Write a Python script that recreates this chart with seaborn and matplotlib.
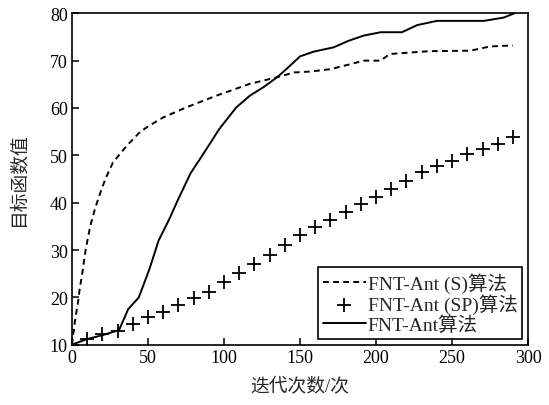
import numpy as np
import pandas as pd
import matplotlib
matplotlib.use('Agg')
import matplotlib.pyplot as plt
import seaborn as sns

# FNT-Ant (S): dashed curve
s_x = [0, 2, 4, 5, 7, 9, 12, 15, 18, 22, 27, 36, 45, 51, 60, 75, 95, 117, 135,
       146, 157, 170, 180, 192, 203, 209, 235, 262, 275, 290]
s_y = [10, 15, 19, 21.5, 25.5, 30, 35, 38.5, 41.5, 45, 48.5, 52, 55, 56.3, 58,
       60.1, 62.6, 65.1, 66.5, 67.5, 67.7, 68.2, 69, 70, 70, 71.4, 72, 72.1, 73, 73.2]

# FNT-Ant (SP): plus markers every 10 iterations
sp_x = list(range(0, 300, 10))
sp_y = [10, 11.2, 12.3, 13, 14.4, 15.8, 17, 18.4, 19.8, 21.1, 23.2, 25.1, 27, 29,
        31.1, 33.1, 34.8, 36.4, 38.1, 39.7, 41.3, 42.9, 44.6, 46.4, 47.8, 48.9,
        50.3, 51.3, 52.4, 53.8]

# FNT-Ant: solid curve
a_x = [0, 10, 20, 31, 37, 44, 51, 57, 64, 70, 78, 87, 97, 108, 117, 126, 135,
       142, 150, 159, 172, 182, 192, 203, 217, 227, 240, 255, 271, 284, 291]
a_y = [10, 11.2, 12, 13.1, 17.5, 20, 26, 32, 36.5, 40.8, 46.2, 50.6, 55.6, 60.1,
       62.6, 64.4, 66.5, 68.5, 70.9, 71.9, 72.8, 74.2, 75.3, 76, 76, 77.5, 78.4,
       78.4, 78.4, 79.1, 80]

labels = ['FNT-Ant (S)算法', 'FNT-Ant (SP)算法', 'FNT-Ant算法']
x_ticks = [0, 50, 100, 150, 200, 250, 300]
y_ticks = [10, 20, 30, 40, 50, 60, 70, 80]

sns.set_style('ticks')
plt.rcParams['font.family'] = ['Liberation Serif', 'Noto Sans CJK SC']
plt.rcParams['axes.unicode_minus'] = False

fig = plt.figure(figsize=(5.49, 4.06), dpi=100)
ax = fig.add_axes([0.131, 0.1485, 0.831, 0.8163])

df_s = pd.DataFrame({'x': s_x, 'y': s_y})
df_sp = pd.DataFrame({'x': sp_x, 'y': sp_y})
df_a = pd.DataFrame({'x': a_x, 'y': a_y})

sns.lineplot(data=df_s, x='x', y='y', ax=ax, color='black', linestyle=(0, (3, 2.2)),
             linewidth=1.4, label=labels[0])
sns.scatterplot(data=df_sp, x='x', y='y', ax=ax, color='black', marker='+',
                s=110, linewidth=1.3, label=labels[1], zorder=3)
sns.lineplot(data=df_a, x='x', y='y', ax=ax, color='black', linewidth=1.4,
             label=labels[2])

ax.set_xlim(0, 300)
ax.set_ylim(10, 80)
ax.set_xticks(x_ticks)
ax.set_yticks(y_ticks)
ax.tick_params(direction='in', length=5, width=1.1, labelsize=13, pad=3,
               colors='black')
for sp in ax.spines.values():
    sp.set_linewidth(1.2)
    sp.set_color('black')

ax.set_xlabel('迭代次数/次', fontsize=13.5, labelpad=8)
ax.set_ylabel('目标函数值', fontsize=13.5, labelpad=16)

handles, labs = ax.get_legend_handles_labels()
order = [labs.index(l) for l in labels]
leg = ax.legend([handles[i] for i in order], [labs[i] for i in order],
                loc='lower right', fontsize=14, frameon=True, fancybox=False,
                edgecolor='black', handlelength=2.2, handletextpad=0.1,
                labelspacing=0.05, borderpad=0.25, borderaxespad=0.3)
leg.get_frame().set_linewidth(1.2)
leg.get_frame().set_alpha(1)

fig.savefig('out.png', dpi=100)
